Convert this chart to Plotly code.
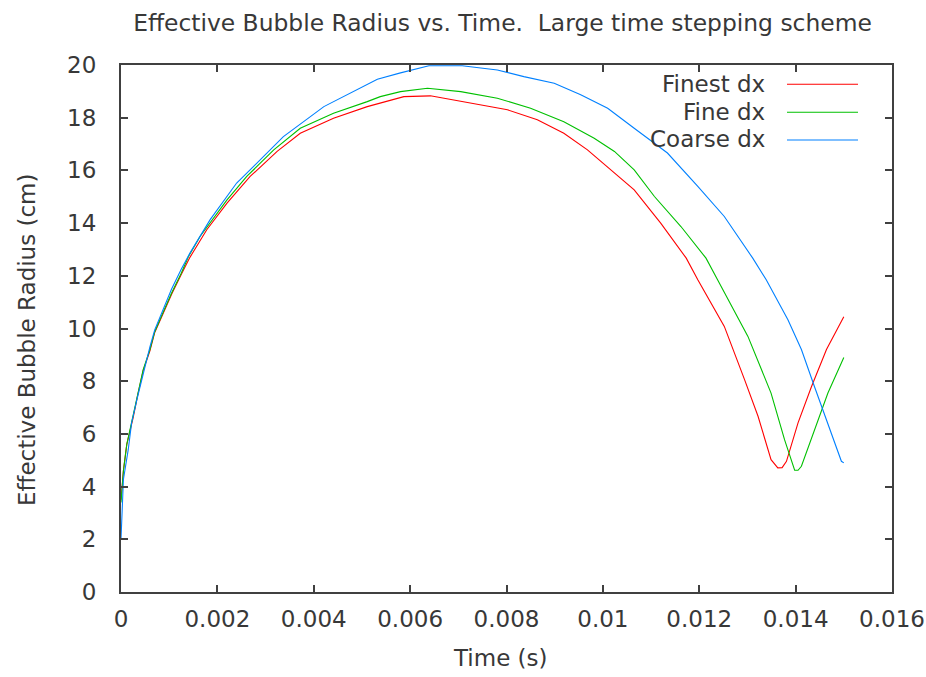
import plotly.graph_objects as go

# Effective bubble radius (cm) against time (s) for three grid resolutions
finest_t = [0, 0.00005, 0.00012, 0.00025, 0.00035, 0.00046, 0.0006, 0.0007, 0.00087,
            0.00105, 0.00125, 0.00143, 0.00178, 0.0022, 0.00268, 0.00324, 0.00372,
            0.00441, 0.00511, 0.00538, 0.00587, 0.00642, 0.00726, 0.00802, 0.00864,
            0.00919, 0.00968, 0.01013, 0.01065, 0.0112, 0.01173, 0.01197, 0.01252,
            0.01294, 0.01322, 0.01349, 0.01363, 0.01372, 0.01381, 0.01405, 0.01433,
            0.01464, 0.015]
finest_r = [3.5, 4.6, 5.6, 6.6, 7.5, 8.4, 9.15, 9.85, 10.55,
            11.3, 12.05, 12.7, 13.75, 14.76, 15.77, 16.72, 17.41,
            17.98, 18.42, 18.55, 18.8, 18.83, 18.55, 18.3, 17.92,
            17.41, 16.78, 16.09, 15.26, 14.0, 12.67, 11.85, 10.08,
            8.06, 6.67, 5.02, 4.71, 4.72, 4.96, 6.42, 7.8,
            9.2, 10.45]

fine_t = [0, 0.00005, 0.00012, 0.00025, 0.00035, 0.00046, 0.0006, 0.0007, 0.00087,
          0.00105, 0.00125, 0.0014, 0.00164, 0.0022, 0.00261, 0.00317, 0.00372,
          0.00441, 0.00511, 0.00538, 0.0058, 0.00636, 0.00705, 0.00781, 0.0085,
          0.00919, 0.00982, 0.01024, 0.01065, 0.01107, 0.01162, 0.01214, 0.01238,
          0.01301, 0.01349, 0.01377, 0.01398, 0.01405, 0.01412, 0.01439, 0.01467,
          0.015]
fine_r = [3.4, 4.6, 5.6, 6.65, 7.55, 8.44, 9.2, 9.88, 10.6,
          11.35, 12.1, 12.73, 13.49, 14.88, 15.77, 16.78, 17.6,
          18.17, 18.61, 18.8, 18.99, 19.12, 18.99, 18.74, 18.36,
          17.85, 17.22, 16.72, 16.02, 15.01, 13.87, 12.67, 11.85,
          9.7, 7.55, 5.78, 4.62, 4.62, 4.77, 6.16, 7.55,
          8.9]

coarse_t = [0, 0.00002, 0.00005, 0.00015, 0.00022, 0.00033, 0.00043, 0.0006, 0.0007,
            0.00087, 0.00105, 0.00125, 0.00143, 0.00185, 0.0024, 0.00296, 0.00337,
            0.00421, 0.00532, 0.0058, 0.00639, 0.00708, 0.00781, 0.00836, 0.00899,
            0.00954, 0.0101, 0.01065, 0.01134, 0.01197, 0.01252, 0.01311, 0.01339,
            0.01384, 0.01412, 0.01439, 0.01467, 0.01495, 0.015]
coarse_r = [2.0, 3.0, 4.27, 5.4, 6.42, 7.3, 8.06, 9.3, 9.95,
            10.7, 11.5, 12.25, 12.86, 14.13, 15.52, 16.53, 17.28,
            18.42, 19.46, 19.7, 19.97, 19.97, 19.81, 19.56, 19.31,
            18.87, 18.36, 17.6, 16.66, 15.39, 14.25, 12.67, 11.85,
            10.33, 9.2, 7.8, 6.42, 4.96, 4.9]

series_names = ["Finest dx", "Fine dx", "Coarse dx"]
series_colors = ["#ff0000", "#00c000", "#0080ff"]

x_ticks = [0, 0.002, 0.004, 0.006, 0.008, 0.01, 0.012, 0.014, 0.016]
x_tick_text = ["0", "0.002", "0.004", "0.006", "0.008", "0.01", "0.012", "0.014", "0.016"]
y_ticks = [0, 2, 4, 6, 8, 10, 12, 14, 16, 18, 20]

FONT = "DejaVu Sans"
FSIZE = 23
TEXT = "#383838"
AXIS = "#404040"

W, H = 926, 677
L, R, T, B = 121, 34, 65, 85
PW, PH = W - L - R, H - T - B


def px_to_paper(px, py):
    """Convert page pixel positions to paper fractions of the plotting area."""
    return (px - L) / PW, (H - B - py) / PH


fig = go.Figure()
for name, color, t, r in zip(series_names, series_colors,
                             [finest_t, fine_t, coarse_t],
                             [finest_r, fine_r, coarse_r]):
    fig.add_trace(go.Scatter(x=t, y=r, mode="lines", name=name,
                             line=dict(color=color, width=1.1),
                             showlegend=False))

# Key in the top-right corner: label on the left, line sample on the right
key_text_y = [83.5, 111.5, 138.5]
key_line_y = [84.3, 112.3, 140.0]
for name, color, ty, ly in zip(series_names, series_colors, key_text_y, key_line_y):
    tx, typ = px_to_paper(767, ty)
    fig.add_annotation(xref="paper", yref="paper", x=tx, y=typ,
                       text=name, showarrow=False, xanchor="right", yanchor="middle",
                       font=dict(family=FONT, size=FSIZE, color=TEXT))
    x0, lyp = px_to_paper(787, ly)
    x1, _ = px_to_paper(858, ly)
    fig.add_shape(type="line", xref="paper", yref="paper",
                  x0=x0, x1=x1, y0=lyp, y1=lyp,
                  line=dict(color=color, width=1.1))

# Axis titles
xt_x, xt_y = px_to_paper(500, 658)
fig.add_annotation(xref="paper", yref="paper", x=xt_x, y=xt_y, text="Time (s)",
                   showarrow=False, xanchor="center", yanchor="middle",
                   font=dict(family=FONT, size=FSIZE, color=TEXT))
yt_x, yt_y = px_to_paper(26.5, 339.5)
fig.add_annotation(xref="paper", yref="paper", x=yt_x, y=yt_y,
                   text="Effective Bubble Radius (cm)", textangle=-90,
                   showarrow=False, xanchor="center", yanchor="middle",
                   font=dict(family=FONT, size=FSIZE, color=TEXT))

fig.update_layout(
    width=W, height=H,
    margin=dict(l=L, r=R, t=T, b=B, autoexpand=False),
    paper_bgcolor="white", plot_bgcolor="white",
    font=dict(family=FONT, size=FSIZE, color=TEXT),
    title=dict(text="Effective Bubble Radius vs. Time.  Large time stepping scheme",
               x=502.5 / W, xanchor="center", y=1 - 22.5 / H, yanchor="middle",
               font=dict(family=FONT, size=23.4, color=TEXT)),
)
fig.update_xaxes(
    range=[0, 0.016], tickvals=x_ticks, ticktext=x_tick_text,
    showgrid=False, zeroline=False, automargin=False,
    showline=True, linecolor=AXIS, linewidth=2, mirror="ticks",
    ticks="inside", ticklen=7, tickwidth=1.5, tickcolor=AXIS,
    ticklabelstandoff=5,
)
fig.update_yaxes(
    range=[0, 20], tickvals=y_ticks,
    showgrid=False, zeroline=False, automargin=False,
    showline=True, linecolor=AXIS, linewidth=2, mirror="ticks",
    ticks="inside", ticklen=7, tickwidth=1.5, tickcolor=AXIS,
    ticklabelstandoff=18,
)

fig.write_html("out.html")
